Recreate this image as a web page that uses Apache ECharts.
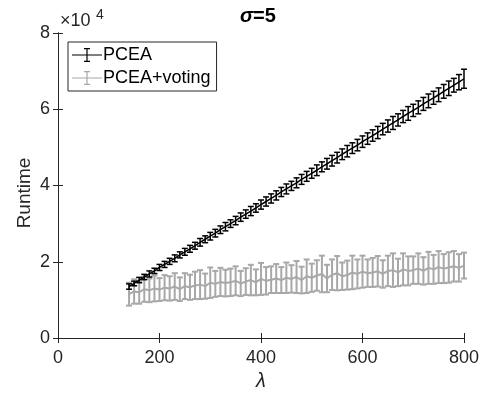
<!DOCTYPE html>
<html>
<head>
<meta charset="utf-8">
<script src="https://cdn.jsdelivr.net/npm/echarts@6/dist/echarts.min.js"></script>
<style>
  html, body { margin: 0; padding: 0; background: #fff; }
  #chart { width: 487px; height: 395px; }
</style>
</head>
<body>
<div id="chart"></div>
<script>
// lambda values (x axis)
const lambdas = [
  140, 150, 160, 170, 180, 190, 200, 210, 220, 230,
  240, 250, 260, 270, 280, 290, 300, 310, 320, 330,
  340, 350, 360, 370, 380, 390, 400, 410, 420, 430,
  440, 450, 460, 470, 480, 490, 500, 510, 520, 530,
  540, 550, 560, 570, 580, 590, 600, 610, 620, 630,
  640, 650, 660, 670, 680, 690, 700, 710, 720, 730,
  740, 750, 760, 770, 780, 790, 800
];

// runtime means, in units of 10^4
const pceaMean = [
  1.35, 1.43, 1.52, 1.60, 1.68, 1.76, 1.85, 1.93, 2.01, 2.09,
  2.18, 2.26, 2.34, 2.42, 2.51, 2.59, 2.67, 2.75, 2.84, 2.92,
  3.00, 3.08, 3.17, 3.25, 3.33, 3.41, 3.50, 3.58, 3.66, 3.74,
  3.83, 3.91, 3.99, 4.07, 4.16, 4.24, 4.32, 4.40, 4.49, 4.57,
  4.65, 4.73, 4.82, 4.90, 4.98, 5.06, 5.15, 5.23, 5.31, 5.39,
  5.48, 5.56, 5.64, 5.72, 5.81, 5.89, 5.97, 6.05, 6.14, 6.22,
  6.30, 6.38, 6.47, 6.55, 6.63, 6.71, 6.80
];
const pceaErr = [
  0.07, 0.06, 0.07, 0.07, 0.08, 0.07, 0.08, 0.08, 0.08, 0.09,
  0.08, 0.09, 0.09, 0.09, 0.10, 0.09, 0.10, 0.10, 0.10, 0.11,
  0.10, 0.11, 0.11, 0.11, 0.12, 0.11, 0.12, 0.12, 0.12, 0.12,
  0.12, 0.13, 0.12, 0.13, 0.13, 0.13, 0.13, 0.14, 0.13, 0.14,
  0.14, 0.14, 0.14, 0.15, 0.14, 0.15, 0.15, 0.15, 0.15, 0.16,
  0.15, 0.16, 0.17, 0.16, 0.16, 0.18, 0.16, 0.17, 0.17, 0.18,
  0.17, 0.18, 0.18, 0.19, 0.18, 0.20, 0.25
];
const votingMean = [
  1.15, 1.22, 1.20, 1.28, 1.25, 1.30, 1.27, 1.32, 1.30, 1.35,
  1.28, 1.36, 1.33, 1.38, 1.40, 1.36, 1.45, 1.42, 1.47, 1.44,
  1.46, 1.50, 1.43, 1.48, 1.52, 1.46, 1.55, 1.50, 1.53, 1.56,
  1.52, 1.58, 1.55, 1.60, 1.52, 1.62, 1.58, 1.64, 1.68, 1.56,
  1.66, 1.70, 1.62, 1.65, 1.72, 1.68, 1.74, 1.70, 1.72, 1.75,
  1.68, 1.76, 1.78, 1.72, 1.80, 1.76, 1.78, 1.82, 1.76, 1.84,
  1.80, 1.86, 1.82, 1.85, 1.88, 1.84, 1.90
];
const votingErr = [
  0.30, 0.32, 0.30, 0.33, 0.31, 0.34, 0.30, 0.33, 0.32, 0.35,
  0.31, 0.34, 0.33, 0.36, 0.38, 0.33, 0.40, 0.34, 0.37, 0.35,
  0.36, 0.38, 0.33, 0.35, 0.40, 0.34, 0.42, 0.36, 0.35, 0.38,
  0.34, 0.40, 0.36, 0.42, 0.35, 0.44, 0.37, 0.40, 0.48, 0.36,
  0.40, 0.45, 0.36, 0.38, 0.44, 0.38, 0.42, 0.36, 0.38, 0.40,
  0.36, 0.40, 0.44, 0.36, 0.42, 0.38, 0.36, 0.40, 0.36, 0.42,
  0.38, 0.42, 0.38, 0.40, 0.40, 0.36, 0.34
];

const xTicks = [0, 200, 400, 600, 800];
const yTicks = [0, 2, 4, 6, 8];

const FONT = '"Liberation Sans", Arial, sans-serif';
const AXIS_COLOR = '#262626';
const BLACK = '#000000';
const GRAY = '#a8a8a8';

const chart = echarts.init(document.getElementById('chart'));

const lineData = (means) => lambdas.map((x, i) => [x, means[i]]);
const barData = (means, errs) => lambdas.map((x, i) => [x, means[i] - errs[i], means[i] + errs[i]]);

// draws a vertical error bar with caps
const errorBarRenderer = (color, width) => (params, api) => {
  const x = api.value(0);
  const lo = api.coord([x, api.value(1)]);
  const hi = api.coord([x, api.value(2)]);
  const cap = 3;
  const style = { stroke: color, lineWidth: width };
  return {
    type: 'group',
    children: [
      { type: 'line', shape: { x1: lo[0], y1: lo[1], x2: hi[0], y2: hi[1] }, style },
      { type: 'line', shape: { x1: lo[0] - cap, y1: lo[1], x2: lo[0] + cap, y2: lo[1] }, style },
      { type: 'line', shape: { x1: hi[0] - cap, y1: hi[1], x2: hi[0] + cap, y2: hi[1] }, style }
    ]
  };
};

const legendIcon = 'path://M0,7.4h30v1.2h-30z M14.4,1h1.2v14h-1.2z M12,1h6v1.2h-6z M12,13.8h6v1.2h-6z';

const axisBase = {
  axisLine: { show: true, lineStyle: { color: AXIS_COLOR, width: 1 } },
  axisTick: { show: true, inside: true, length: 5, lineStyle: { color: AXIS_COLOR } },
  splitLine: { show: false }
};

const option = {
  animation: false,
  backgroundColor: '#fff',
  textStyle: { fontFamily: FONT },
  legend: {
    orient: 'vertical',
    left: 68,
    top: 42,
    padding: [4, 6, 4, 4],
    itemGap: 5,
    itemWidth: 30,
    itemHeight: 16,
    borderColor: AXIS_COLOR,
    borderWidth: 1,
    borderRadius: 0,
    backgroundColor: '#fff',
    selectedMode: false,
    textStyle: { fontFamily: FONT, fontSize: 18, color: '#000', padding: [0, 0, 0, -4] },
    data: [
      { name: 'PCEA', icon: legendIcon },
      { name: 'PCEA+voting', icon: legendIcon }
    ]
  },
  grid: { left: 58, right: 23, top: 33, bottom: 57, outerBoundsMode: 'none' },
  xAxis: [
    {
      ...axisBase,
      type: 'value',
      min: 0,
      max: 800,
      interval: 200,
      position: 'bottom',
      name: 'λ',
      nameLocation: 'middle',
      nameGap: 33,
      nameTextStyle: { fontFamily: FONT, fontSize: 20, fontStyle: 'italic', color: AXIS_COLOR },
      axisLabel: { fontFamily: FONT, fontSize: 18, color: AXIS_COLOR, margin: 11,
        customValues: xTicks }
    },
    {
      ...axisBase,
      type: 'value',
      min: 0,
      max: 800,
      interval: 200,
      position: 'top',
      axisLabel: { show: false }
    }
  ],
  yAxis: [
    {
      ...axisBase,
      type: 'value',
      min: 0,
      max: 8,
      interval: 2,
      position: 'left',
      axisLabel: { fontFamily: FONT, fontSize: 18, color: AXIS_COLOR, margin: 8,
        customValues: yTicks }
    },
    {
      ...axisBase,
      type: 'value',
      min: 0,
      max: 8,
      interval: 2,
      position: 'right',
      axisLabel: { show: false }
    }
  ],
  graphic: [
    { type: 'text', x: 25, y: 193, rotation: Math.PI / 2,
      style: { text: 'Runtime', font: '19px "Liberation Sans", Arial, sans-serif', fill: AXIS_COLOR, align: 'center', verticalAlign: 'middle' } },
    { type: 'text', left: 60, top: 12, style: { text: '×10', font: '18px "Liberation Sans", Arial, sans-serif', fill: AXIS_COLOR } },
    { type: 'text', left: 96, top: 8, style: { text: '4', font: '14px "Liberation Sans", Arial, sans-serif', fill: AXIS_COLOR } },
    { type: 'text', left: 240, top: 6, style: { text: 'σ', font: 'italic bold 20px "Liberation Sans", Arial, sans-serif', fill: '#000' } },
    { type: 'text', left: 253, top: 6, style: { text: '=5', font: 'bold 20px "Liberation Sans", Arial, sans-serif', fill: '#000' } }
  ],
  series: [
    {
      name: 'PCEA+voting bars',
      type: 'custom',
      renderItem: errorBarRenderer(GRAY, 2),
      data: barData(votingMean, votingErr),
      encode: { x: 0, y: [1, 2] },
      z: 2
    },
    {
      name: 'PCEA+voting',
      type: 'line',
      data: lineData(votingMean),
      showSymbol: false,
      color: GRAY,
      lineStyle: { color: GRAY, width: 2 },
      z: 3
    },
    {
      name: 'PCEA bars',
      type: 'custom',
      renderItem: errorBarRenderer(BLACK, 1.5),
      data: barData(pceaMean, pceaErr),
      encode: { x: 0, y: [1, 2] },
      z: 4
    },
    {
      name: 'PCEA',
      type: 'line',
      data: lineData(pceaMean),
      showSymbol: false,
      color: BLACK,
      lineStyle: { color: BLACK, width: 1.5 },
      z: 5
    }
  ]
};

chart.setOption(option);
</script>
</body>
</html>
